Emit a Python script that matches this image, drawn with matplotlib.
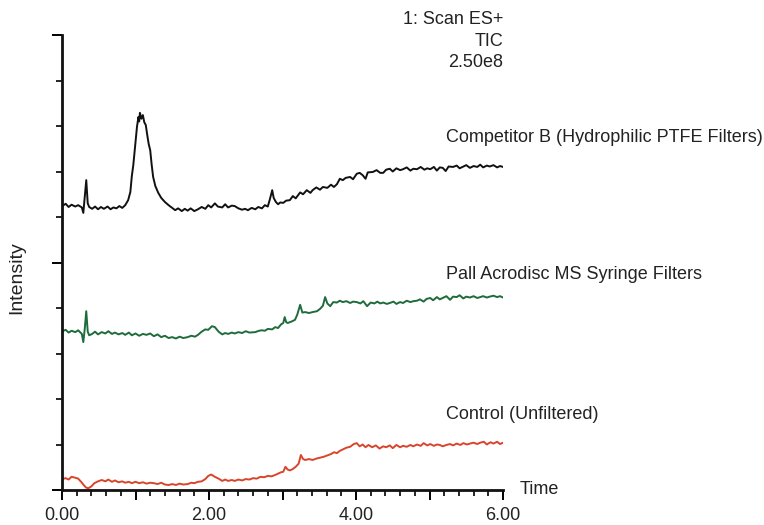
"""
TIC chromatograms: extractables from syringe filters (Scan ES+).
"""
import numpy as np
import matplotlib
matplotlib.use("Agg")
import matplotlib.pyplot as plt
from matplotlib.ticker import MultipleLocator, FuncFormatter

plt.rcParams['font.family'] = ['Liberation Sans', 'DejaVu Sans']

# Competitor B (Hydrophilic PTFE Filters) - time (min), relative intensity
comp_t = [0.00, 0.05, 0.09, 0.13, 0.18, 0.22, 0.27, 0.29, 0.31, 0.33, 0.35, 0.37, 0.41, 0.45,
          0.49, 0.53, 0.57, 0.62, 0.66, 0.70, 0.74, 0.78, 0.82, 0.86, 0.90, 0.93, 0.95, 0.97,
          1.00, 1.02, 1.04, 1.05, 1.06, 1.08, 1.10, 1.12, 1.14, 1.16, 1.18, 1.20, 1.22, 1.24,
          1.27, 1.31, 1.35, 1.40, 1.45, 1.50, 1.54, 1.58, 1.63, 1.67, 1.71, 1.75, 1.80, 1.85,
          1.90, 1.95, 1.99, 2.03, 2.08, 2.12, 2.18, 2.22, 2.26, 2.31, 2.35, 2.40, 2.45, 2.49,
          2.53, 2.58, 2.63, 2.67, 2.72, 2.76, 2.80, 2.83, 2.86, 2.88, 2.91, 2.94, 2.97, 3.01,
          3.05, 3.10, 3.14, 3.18, 3.24, 3.28, 3.33, 3.38, 3.41, 3.46, 3.51, 3.55, 3.61, 3.66,
          3.70, 3.74, 3.78, 3.82, 3.86, 3.92, 3.96, 4.01, 4.05, 4.09, 4.13, 4.16, 4.23, 4.28,
          4.33, 4.37, 4.41, 4.46, 4.50, 4.55, 4.60, 4.64, 4.69, 4.74, 4.78, 4.83, 4.88, 4.93,
          4.97, 5.01, 5.06, 5.10, 5.14, 5.18, 5.22, 5.26, 5.32, 5.37, 5.41, 5.46, 5.50, 5.55,
          5.60, 5.65, 5.69, 5.73, 5.78, 5.82, 5.87, 5.92, 5.96, 6.00]
comp_v = [62.4, 62.9, 62.2, 62.7, 62.3, 62.6, 62.1, 60.9, 64.5, 68.1, 63.0, 62.2, 61.8, 62.3,
          61.7, 62.2, 61.8, 62.3, 61.7, 62.1, 61.9, 62.4, 62.0, 62.6, 63.7, 65.5, 69.0, 71.4,
          76.5, 79.8, 82.0, 81.0, 82.9, 81.6, 82.4, 80.8, 80.2, 78.0, 76.0, 74.7, 71.5, 68.8,
          66.8, 65.3, 64.2, 63.3, 62.6, 62.0, 61.5, 61.9, 61.3, 61.8, 61.4, 61.9, 61.3, 61.7,
          62.2, 61.8, 62.6, 62.1, 63.0, 62.3, 62.1, 62.8, 62.1, 62.5, 62.4, 61.9, 61.6, 61.8,
          61.5, 62.0, 61.7, 62.2, 61.9, 62.6, 62.3, 64.0, 65.9, 64.2, 63.3, 62.8, 63.2, 63.1,
          63.6, 63.7, 64.6, 64.1, 65.4, 65.0, 65.9, 65.3, 65.9, 66.5, 66.0, 66.6, 66.4, 67.1,
          66.6, 67.2, 68.4, 68.1, 68.6, 68.8, 68.3, 69.5, 69.7, 69.2, 68.4, 69.8, 69.9, 70.3,
          69.7, 69.7, 70.4, 70.6, 70.0, 70.7, 70.3, 70.5, 70.9, 70.2, 70.6, 70.5, 71.0, 70.4,
          70.7, 70.5, 71.0, 70.2, 70.9, 70.8, 70.1, 71.1, 71.0, 71.3, 70.7, 71.1, 71.4, 70.8,
          71.2, 71.0, 71.5, 70.9, 71.3, 71.1, 71.4, 70.9, 71.2, 71.0]

# Pall Acrodisc MS Syringe Filters
pall_t = [0.00, 0.05, 0.09, 0.13, 0.18, 0.22, 0.27, 0.29, 0.31, 0.33, 0.35, 0.37, 0.41, 0.45,
          0.49, 0.54, 0.59, 0.63, 0.68, 0.72, 0.77, 0.82, 0.86, 0.91, 0.95, 1.00, 1.05, 1.10,
          1.15, 1.20, 1.25, 1.30, 1.35, 1.40, 1.45, 1.50, 1.55, 1.60, 1.65, 1.71, 1.76, 1.81,
          1.85, 1.90, 1.95, 1.99, 2.04, 2.08, 2.13, 2.18, 2.22, 2.26, 2.31, 2.35, 2.40, 2.45,
          2.50, 2.55, 2.63, 2.68, 2.72, 2.76, 2.80, 2.86, 2.90, 2.94, 2.98, 3.01, 3.03, 3.05,
          3.07, 3.12, 3.17, 3.20, 3.24, 3.27, 3.31, 3.36, 3.41, 3.47, 3.51, 3.55, 3.58, 3.61,
          3.65, 3.69, 3.74, 3.78, 3.82, 3.87, 3.92, 3.96, 4.01, 4.06, 4.10, 4.15, 4.20, 4.25,
          4.29, 4.33, 4.37, 4.42, 4.46, 4.51, 4.55, 4.60, 4.64, 4.69, 4.74, 4.78, 4.83, 4.87,
          4.92, 4.96, 5.01, 5.05, 5.10, 5.14, 5.18, 5.23, 5.28, 5.32, 5.37, 5.41, 5.46, 5.50,
          5.55, 5.60, 5.65, 5.69, 5.73, 5.78, 5.82, 5.87, 5.92, 5.96, 6.00]
pall_v = [34.9, 35.2, 34.6, 35.0, 34.7, 35.1, 34.3, 32.5, 35.5, 39.3, 34.8, 34.0, 34.3, 34.8,
          34.2, 34.7, 34.4, 34.9, 34.3, 34.6, 34.2, 34.5, 34.1, 34.6, 34.0, 34.4, 33.9, 34.3,
          34.1, 34.4, 33.8, 34.2, 33.6, 33.9, 33.4, 33.6, 33.3, 33.7, 33.4, 33.6, 33.9, 33.7,
          34.1, 34.8, 35.3, 35.2, 36.0, 35.8, 34.8, 34.2, 34.5, 34.3, 34.6, 34.4, 34.7, 34.5,
          34.9, 34.6, 34.7, 35.0, 35.1, 35.0, 35.4, 35.3, 35.8, 35.6, 36.4, 36.7, 38.0, 36.9,
          36.7, 37.0, 37.4, 38.5, 40.7, 39.0, 39.1, 38.9, 39.1, 39.3, 39.8, 40.5, 42.4, 41.0,
          40.4, 41.3, 41.2, 41.6, 41.3, 41.5, 41.1, 41.4, 41.3, 41.0, 41.5, 40.4, 41.2, 41.0,
          41.4, 41.0, 41.2, 40.9, 41.1, 41.4, 40.9, 41.3, 41.1, 41.6, 41.3, 41.5, 41.6, 41.9,
          41.4, 42.0, 42.2, 41.7, 42.4, 41.9, 42.2, 42.6, 41.8, 42.5, 42.4, 42.8, 42.1, 42.5,
          42.3, 42.6, 42.2, 42.4, 42.6, 42.3, 42.5, 42.7, 42.4, 42.6, 42.3]

# Control (Unfiltered)
ctrl_t = [0.00, 0.05, 0.09, 0.13, 0.18, 0.22, 0.26, 0.30, 0.33, 0.36, 0.40, 0.44, 0.49, 0.54,
          0.59, 0.63, 0.68, 0.72, 0.77, 0.82, 0.86, 0.91, 0.95, 1.00, 1.05, 1.10, 1.15, 1.20,
          1.25, 1.30, 1.35, 1.40, 1.45, 1.50, 1.55, 1.60, 1.65, 1.71, 1.76, 1.80, 1.85, 1.90,
          1.95, 1.99, 2.03, 2.08, 2.13, 2.18, 2.22, 2.26, 2.31, 2.35, 2.40, 2.45, 2.50, 2.55,
          2.60, 2.65, 2.70, 2.75, 2.80, 2.85, 2.90, 2.94, 2.98, 3.01, 3.04, 3.07, 3.10, 3.14,
          3.18, 3.22, 3.25, 3.28, 3.31, 3.36, 3.41, 3.46, 3.51, 3.56, 3.61, 3.66, 3.70, 3.74,
          3.78, 3.83, 3.87, 3.92, 3.97, 4.01, 4.05, 4.09, 4.13, 4.17, 4.22, 4.27, 4.32, 4.37,
          4.41, 4.46, 4.50, 4.55, 4.60, 4.64, 4.69, 4.74, 4.78, 4.83, 4.88, 4.92, 4.97, 5.01,
          5.06, 5.10, 5.14, 5.18, 5.23, 5.28, 5.32, 5.37, 5.42, 5.46, 5.51, 5.55, 5.60, 5.65,
          5.69, 5.74, 5.78, 5.83, 5.87, 5.92, 5.96, 6.00]
ctrl_v = [2.4, 2.6, 2.3, 2.9, 2.7, 2.5, 1.8, 1.0, 0.5, 0.4, 0.8, 1.5, 1.9, 2.2,
          1.9, 2.3, 1.8, 2.1, 1.7, 1.9, 1.6, 1.8, 1.5, 1.8, 1.5, 1.7, 1.4, 1.6,
          1.5, 1.3, 1.6, 1.2, 1.1, 1.3, 1.1, 1.4, 1.2, 1.3, 1.6, 1.5, 1.8, 1.9,
          2.4, 3.1, 3.4, 2.9, 2.5, 2.0, 2.3, 2.0, 2.2, 2.0, 2.3, 2.1, 2.4, 2.3,
          2.6, 2.5, 2.9, 2.8, 3.1, 3.0, 3.3, 3.6, 3.9, 4.0, 5.1, 4.5, 4.3, 4.6,
          5.1, 5.8, 7.7, 6.8, 6.6, 6.8, 6.6, 6.9, 7.1, 7.3, 7.6, 7.9, 8.3, 8.1,
          8.6, 9.0, 9.3, 9.5, 10.1, 10.3, 9.6, 10.0, 9.4, 9.9, 9.4, 9.8, 9.1, 9.6,
          9.4, 9.8, 9.2, 9.9, 9.4, 9.7, 9.5, 9.9, 9.6, 10.0, 9.7, 10.3, 9.8, 10.1,
          9.7, 10.0, 9.9, 9.6, 9.9, 10.1, 9.8, 10.2, 9.9, 10.3, 10.0, 10.2, 10.4, 10.1,
          10.4, 10.6, 10.0, 10.5, 10.2, 10.6, 10.1, 10.4]

x_tick_labels = ['0.00', '2.00', '4.00', '6.00']
header_lines = ['1: Scan ES+', 'TIC', '2.50e8']
trace_labels = ['Competitor B (Hydrophilic PTFE Filters)',
                'Pall Acrodisc MS Syringe Filters',
                'Control (Unfiltered)']


fig = plt.figure(figsize=(7.64, 5.25), dpi=100)
ax = fig.add_axes([62 / 764, 35 / 525, 441 / 764, 455 / 525])

txt = '#222222'
fs = 13
ax.plot(comp_t, comp_v, color='#111111', lw=1.4)
ax.plot(pall_t, pall_v, color='#1e6b3c', lw=1.4)
ax.plot(ctrl_t, ctrl_v, color='#d8452b', lw=1.4)

ax.set_xlim(0, 6)
ax.set_ylim(0, 100)

for s in ['top', 'right']:
    ax.spines[s].set_visible(False)
for s in ['left', 'bottom']:
    ax.spines[s].set_linewidth(2.0)
    ax.spines[s].set_color('#111111')

# x axis: ticks every 0.2, longer on integers, labels on even minutes
ax.xaxis.set_major_locator(MultipleLocator(1))
ax.xaxis.set_minor_locator(MultipleLocator(0.2))
ax.xaxis.set_major_formatter(FuncFormatter(
    lambda v, p: x_tick_labels[int(round(v)) // 2] if int(round(v)) % 2 == 0 else ''))
ax.tick_params(axis='x', which='major', direction='out', length=7, width=1.4,
               labelsize=fs, labelcolor=txt, pad=5)
ax.tick_params(axis='x', which='minor', direction='out', length=4, width=1.2)

# y axis: unlabelled ticks
ax.yaxis.set_major_locator(MultipleLocator(50))
ax.yaxis.set_minor_locator(MultipleLocator(10))
ax.tick_params(axis='y', which='major', direction='out', length=7, width=1.4, labelleft=False)
ax.tick_params(axis='y', which='minor', direction='out', length=4, width=1.2)

for i, line in enumerate(header_lines):
    ax.text(6.0, 103.3 - i * 4.7, line, ha='right', va='center', fontsize=fs, color=txt,
            clip_on=False)

for lab, yv in zip(trace_labels, [77.4, 47.3, 16.5]):
    ax.text(5.22, yv, lab, ha='left', va='center', fontsize=fs, color=txt, clip_on=False)

ax.text(6.23, 0, 'Time', ha='left', va='center', fontsize=fs, color=txt, clip_on=False)
fig.text(17 / 764, 1 - 278 / 525, 'Intensity', rotation=90, ha='center', va='center',
         fontsize=14, color=txt)

fig.savefig('out.png', dpi=100)
